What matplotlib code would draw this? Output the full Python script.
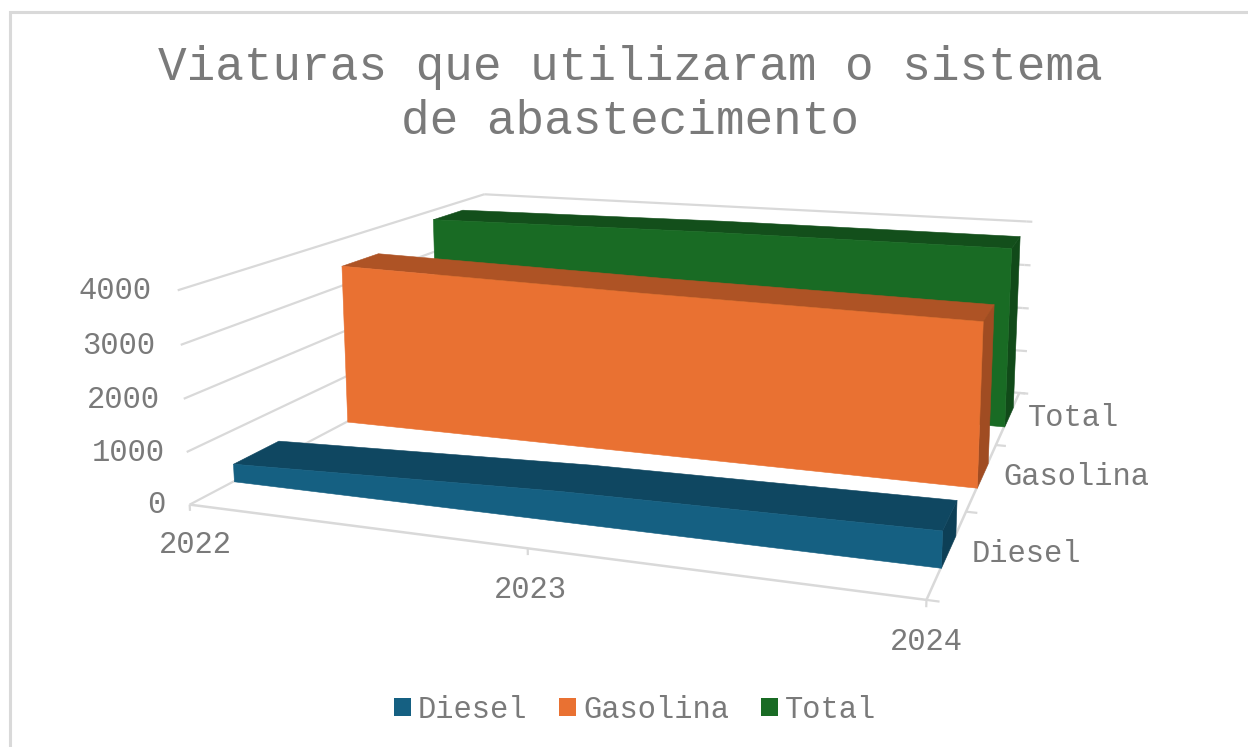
import numpy as np
import matplotlib
matplotlib.use("Agg")
import matplotlib.pyplot as plt
from matplotlib.patches import Patch, Rectangle
from mpl_toolkits.mplot3d.art3d import Poly3DCollection

# ---- data -------------------------------------------------------------
years = ["2022", "2023", "2024"]
series_names = ["Diesel", "Gasolina", "Total"]
diesel = [350, 560, 640]
gasolina = [3430, 3300, 3215]
total = [3790, 3860, 3870]
z_ticks = [0, 1000, 2000, 3000, 4000]

# ---- style ------------------------------------------------------------
W, H = 1248, 747
FONT = "Liberation Mono"
TXT = "#7A7A7A"
GRID = "#D9D9D9"
front_cols = ["#156082", "#E97132", "#196B24"]
top_cols = ["#0F4761", "#AE5325", "#134F1B"]
side_cols = ["#0D3F56", "#A04C22", "#114A19"]
band = (0.33, 0.70)

plt.rcParams["font.family"] = [FONT, "DejaVu Sans"]
fig = plt.figure(figsize=(W / 100, H / 100), dpi=100, facecolor="white")


def fx(u):
    return u / W


def fy(v):
    return 1 - v / H


# square 3D axes, as wide as the figure
ax = fig.add_axes([0, (H - W) / 2 / H, 1, W / H], projection="3d",
                  computed_zorder=False)
ax.set_axis_off()
ax.patch.set_visible(False)
ax.set_xlim(0, 2)
ax.set_ylim(0, 3)
ax.set_zlim(0, 4000)

z = [0]


def nz():
    z[0] += 1
    return z[0]


def face(verts, color):
    pc = Poly3DCollection([verts], facecolors=color, edgecolors=color,
                          linewidths=0.4, zorder=nz())
    ax.add_collection3d(pc, autolim=False)


def line(xs, ys, zs, lw=1.6):
    ax.plot(xs, ys, zs, color=GRID, lw=lw, solid_capstyle="butt", zorder=nz())


# walls and floor
n = len(years) - 1
depth = len(series_names)
for t in z_ticks:
    line([0, 0], [0, depth], [t, t])
    line([0, n], [depth, depth], [t, t])
    line([n, n + 0.02], [depth, depth], [t, t])
line([0, n], [0, 0], [0, 0], 1.8)
line([n, n], [0, depth], [0, 0], 1.8)
for i in range(n + 1):
    line([i, i], [0, 0], [0, -120])
for k in range(depth + 1):
    line([n, n + 0.03], [k, k], [0, 0])

# series, back to front
all_vals = [diesel, gasolina, total]
for k in reversed(range(depth)):
    v = all_vals[k]
    y0, y1 = k + band[0], k + band[1]
    xs = list(range(n + 1))
    # right side
    face([(n, y0, 0), (n, y1, 0), (n, y1, v[n]), (n, y0, v[n])], side_cols[k])
    # top
    face([(x, y0, val) for x, val in zip(xs, v)]
         + [(x, y1, val) for x, val in zip(xs[::-1], v[::-1])], top_cols[k])
    # front
    poly = [(0, y0, 0)] + [(x, y0, val) for x, val in zip(xs, v)] + [(n, y0, 0)]
    face(poly, front_cols[k])

# ---- perspective fitted to points measured on the picture --------------
world = np.array([[0, 0, 0], [2, 0, 0], [2, 3, 0],
                  [0, 0, 4], [0, 3, 4], [2, 3, 4], [2, 3, 3],
                  [0, 0.33, 0], [0, 1.33, 0],
                  [2, 0.33, 0], [2, 1.33, 0], [2, 2.33, 0],
                  [2, 1, 0], [2, 2, 0]], float)
pix = np.array([[193, 503], [926, 601], [1021, 393],
                [177, 290], [485, 194], [1027, 222], [1023, 265],
                [232, 483], [346, 422],
                [939, 568], [973, 487], [999, 427],
                [972, 511], [1000, 444]], float)
disp = np.c_[pix[:, 0], H - pix[:, 1]]
uv = ax.transData.inverted().transform(disp)
sc = 100.0
uvs = uv * sc
A = []
for (X, Y, Z), (u, v) in zip(world, uvs):
    A.append([X, Y, Z, 1, 0, 0, 0, 0, -u * X, -u * Y, -u * Z, -u])
    A.append([0, 0, 0, 0, X, Y, Z, 1, -v * X, -v * Y, -v * Z, -v])
P = np.linalg.svd(np.array(A))[2][-1].reshape(3, 4)
P[:2] /= sc
P[:, 2] /= 1000.0
M = np.vstack([P[0], P[1], [0, 1, 0, 0.3], P[2]])
ax.get_proj = lambda: M

# ---- text -------------------------------------------------------------
fig.add_artist(Rectangle((fx(9.5), fy(H + 20)), fx(W + 40), (H + 8) / H,
                         transform=fig.transFigure, fill=False,
                         ec=GRID, lw=2.2, zorder=-5))
fig.text(fx(630), fy(67), "Viaturas que utilizaram o sistema", ha="center",
         va="center", fontsize=34.4, color=TXT)
fig.text(fx(630), fy(121), "de abastecimento", ha="center", va="center",
         fontsize=34.4, color=TXT)

z_lab_pos = [(165, 505), (165, 453), (160, 400), (155, 346), (151, 291)]
for t, (u, v) in zip(z_ticks, z_lab_pos):
    fig.text(fx(u), fy(v), str(t), ha="right", va="center", fontsize=22,
             color=TXT)
year_pos = [(195, 545), (530, 590), (926, 642)]
for s, (u, v) in zip(years, year_pos):
    fig.text(fx(u), fy(v), s, ha="center", va="center", fontsize=22, color=TXT)
name_pos = [(972, 554), (1003, 477), (1028, 418)]
for s, (u, v) in zip(series_names, name_pos):
    fig.text(fx(u), fy(v), s, ha="left", va="center", fontsize=22, color=TXT)

handles = [Patch(facecolor=c, edgecolor="none", label=s)
           for c, s in zip(front_cols, series_names)]
fig.legend(handles=handles, loc="center", bbox_to_anchor=(fx(635), fy(710)),
           ncol=3, frameon=False, fontsize=22, labelcolor=TXT,
           handlelength=0.55, handleheight=0.55, handletextpad=0.22,
           columnspacing=1.05, borderpad=0, borderaxespad=0)

fig.savefig("out.png", dpi=100, facecolor="white")
